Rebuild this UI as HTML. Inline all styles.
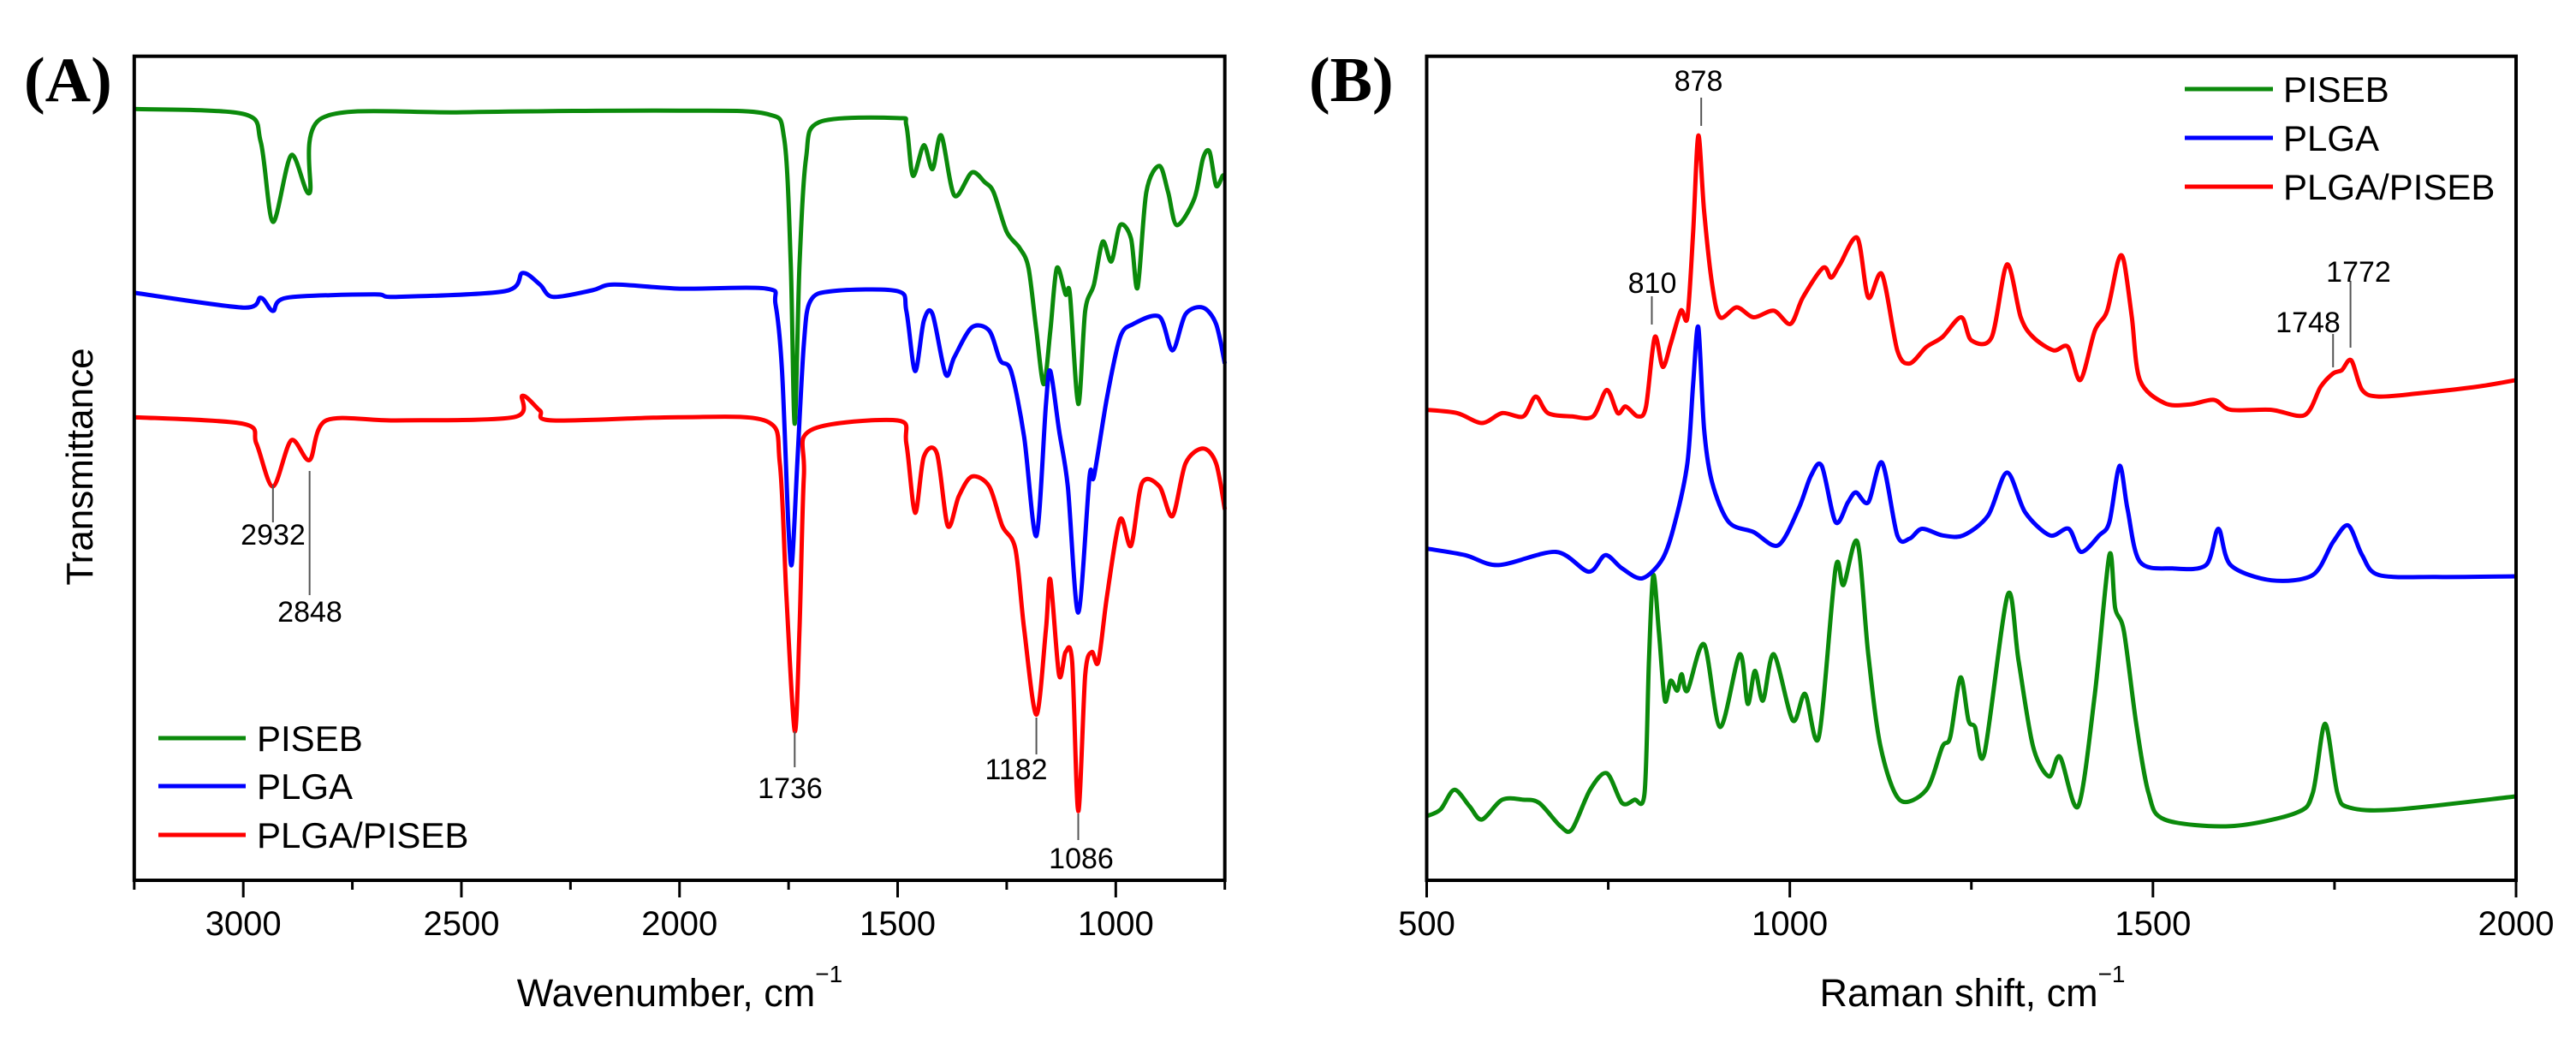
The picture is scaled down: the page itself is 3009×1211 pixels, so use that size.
<!DOCTYPE html>
<html><head><meta charset="utf-8"><style>
html,body{margin:0;padding:0;background:#fff;}
svg{display:block;font-family:"Liberation Sans",Arial,sans-serif;}
</style></head><body>
<svg id="fig" width="3009" height="1211" viewBox="0 0 3009 1211" xmlns="http://www.w3.org/2000/svg">
<g id="pA"></g>
<g id="pB"></g>
</svg>
<script>
// ---------- Panel A data (FTIR) ----------
const aWn = {
 green:[3250,3000,2960,2932,2890,2848,2820,2500,2000,1800,1760,1745,1736,1725,1710,1680,1500,1480,1465,1440,1420,1400,1370,1330,1300,1280,1250,1220,1200,1182,1165,1150,1135,1115,1105,1086,1070,1050,1030,1010,990,965,950,930,900,880,860,820,800,785,770,755,750],
 blue:[3250,3000,2960,2932,2900,2700,2650,2400,2360,2320,2290,2200,2150,2000,1800,1780,1765,1750,1742,1730,1715,1700,1650,1500,1480,1460,1440,1420,1390,1370,1330,1290,1265,1240,1210,1182,1160,1150,1130,1110,1086,1060,1050,1020,990,960,900,870,840,800,770,750],
 red:[3250,3000,2970,2932,2890,2848,2810,2650,2380,2360,2320,2290,2000,1800,1770,1755,1736,1725,1715,1700,1500,1480,1460,1440,1410,1385,1360,1330,1290,1260,1230,1210,1182,1160,1150,1130,1115,1100,1086,1070,1055,1040,1020,990,965,940,900,870,840,800,770,750]
};
const aT = {
 green:[93.6,93.0,89.6,79.9,88.0,83.4,92.5,93.2,93.4,93.0,90.0,74.7,55.4,74.7,87.6,92.0,92.5,91.6,85.5,89.2,86.3,90.4,83.1,85.9,84.7,83.5,78.7,76.7,74.3,66.7,60.2,66.7,74.3,71.1,71.1,57.8,69.1,72.3,77.5,75.1,79.5,77.9,71.9,83.5,86.7,83.5,79.5,82.7,87.6,88.4,84.3,85.5,85.5],
 blue:[71.3,69.5,70.7,69.1,70.7,71.1,70.8,71.5,73.7,72.3,70.8,71.6,72.3,71.8,71.8,69.9,61.8,42.6,38.6,50.6,65.1,70.3,71.5,71.5,69.1,61.8,67.9,68.7,61.4,63.5,67.1,66.7,63.1,61.8,53.8,41.8,57.8,61.8,54.6,47.8,32.5,49.0,49.0,58.6,65.9,67.5,68.4,64.3,68.7,69.5,67.5,62.7],
 red:[56.2,55.4,53.0,47.8,53.4,51.0,55.8,55.8,56.2,58.8,57.0,55.8,56.2,55.7,50.6,34.5,18.1,30.5,49.0,54.6,55.8,53.0,44.6,51.4,51.8,43.0,46.6,49.0,47.8,43.0,40.2,30.5,20.1,30.5,36.5,24.9,27.7,26.5,8.4,24.9,27.7,26.5,34.5,43.8,40.6,48.2,47.8,44.2,50.6,52.4,50.6,45.0]
};
const aTicks = [3000,2500,2000,1500,1000];
const aMinor = [3250,2750,2250,1750,1250,750];

// ---------- Panel B data (Raman) ----------
const bShift = {
 red:[500,542,576,604,633,650,667,700,729,748,763,774,791,802,814,825,836,850,859,867,874,882,893,904,927,950,978,1001,1018,1046,1057,1069,1093,1108,1127,1148,1165,1188,1210,1236,1250,1278,1299,1318,1335,1363,1383,1400,1420,1437,1452,1460,1471,1482,1516,1550,1584,1607,1663,1709,1731,1748,1760,1773,1788,1811,1867,1947,2000],
 blue:[500,553,599,678,723,746,769,797,825,842,859,867,874,882,893,916,950,984,1012,1029,1044,1063,1080,1091,1108,1127,1148,1165,1182,1210,1239,1273,1299,1324,1358,1384,1401,1426,1440,1454,1465,1482,1527,1573,1590,1607,1663,1720,1748,1769,1788,1811,1890,2000],
 green:[500,519,538,559,576,604,633,655,684,700,725,748,769,786,800,806,812,820,828,836,845,851,859,882,904,931,942,952,963,978,1004,1021,1040,1063,1074,1093,1108,1125,1151,1188,1210,1221,1235,1246,1255,1268,1300,1315,1335,1357,1372,1397,1420,1440,1448,1460,1477,1494,1516,1607,1697,1720,1737,1754,1771,1833,2000]
};
const bI = {
 red:[712,707,692,707,702,732,707,702,702,742,707,717,702,717,822,777,812,862,852,982,1127,1012,902,852,867,852,862,842,882,927,912,932,972,882,917,802,782,807,822,852,817,822,932,852,822,802,807,757,832,862,937,937,852,757,722,720,727,712,712,704,747,767,772,787,742,732,737,747,757],
 blue:[502,492,477,497,467,492,472,457,487,542,632,752,837,682,602,542,527,507,562,612,627,542,572,587,572,632,522,517,532,522,522,552,617,557,522,532,497,522,542,627,562,482,472,477,532,477,454,462,512,537,492,462,459,460],
 green:[97,107,137,112,92,122,122,117,82,77,137,162,117,122,132,332,462,372,272,302,287,312,287,357,232,342,267,317,272,342,242,282,217,472,447,512,342,202,122,137,202,217,307,242,232,192,432,332,202,157,187,112,282,492,412,377,237,132,92,82,102,132,237,132,110,107,127]
};
const bTicks = [500,1000,1500,2000];
const bMinor = [750,1250,1750];

const NS = 'http://www.w3.org/2000/svg';
const COL = {green:'#0b8a0b', blue:'#0000ff', red:'#ff0000'};
const LABEL = {green:'PISEB', blue:'PLGA', red:'PLGA/PISEB'};

function mk(parent, tag, attrs, text){
  const e = document.createElementNS(NS, tag);
  for (const k in attrs) e.setAttribute(k, attrs[k]);
  if (text !== undefined) e.textContent = text;
  parent.appendChild(e);
  return e;
}
function pathFrom(pts){
  let d = 'M' + pts[0][0].toFixed(1) + ',' + pts[0][1].toFixed(1);
  for (let i = 0; i < pts.length - 1; i++){
    const p0 = pts[i-1] || pts[i], p1 = pts[i], p2 = pts[i+1], p3 = pts[i+2] || p2;
    const t = 0.15;
    const c1 = [p1[0] + (p2[0]-p0[0])*t, p1[1] + (p2[1]-p0[1])*t];
    const c2 = [p2[0] - (p3[0]-p1[0])*t, p2[1] - (p3[1]-p1[1])*t];
    d += 'C' + c1[0].toFixed(1)+','+c1[1].toFixed(1)+' '+c2[0].toFixed(1)+','+c2[1].toFixed(1)+' '+p2[0].toFixed(1)+','+p2[1].toFixed(1);
  }
  return d;
}

// ---------- Panel A ----------
(function(){
  const g = document.getElementById('pA');
  const L = 156.8, R = 1430.7, T = 65.7, B = 1028;
  const xS = v => L + (3250 - v) / 2500 * (R - L);
  const yS = v => B - v / 100 * (B - T);
  for (const k of ['green','blue','red']){
    const pts = aWn[k].map((w,i) => [xS(w), yS(aT[k][i])]);
    const p = mk(g, 'path', {d: pathFrom(pts), fill:'none', stroke:COL[k], 'stroke-width':5, 'stroke-linejoin':'round'});
    
    
  }
  const fr = mk(g, 'rect', {x:L, y:T, width:R-L, height:B-T, fill:'none', stroke:'#000', 'stroke-width':4});
  
  
  aTicks.forEach(v => {
    const t = mk(g, 'line', {x1:xS(v), x2:xS(v), y1:B, y2:B+20, stroke:'#000', 'stroke-width':3});
    
    
    const l = mk(g, 'text', {x:xS(v), y:1092, 'font-size':40, 'text-anchor':'middle'}, String(v));
    
    
  });
  aMinor.forEach(v => {
    const t = mk(g, 'line', {x1:xS(v), x2:xS(v), y1:B, y2:B+11, stroke:'#000', 'stroke-width':3});
    
    
  });
  const xt = mk(g, 'text', {x:794, y:1175, 'font-size':45, 'text-anchor':'middle'});
  
  
  xt.innerHTML = 'Wavenumber, cm<tspan font-size="28" dy="-28">−1</tspan>';
  const yt = mk(g, 'text', {x:0, y:0, 'font-size':44, 'text-anchor':'middle', transform:'translate(108,545) rotate(-90)'}, 'Transmittance');
  
  
  const pl = mk(g, 'text', {x:28, y:118, 'font-size':74, 'font-weight':'bold', 'font-family':'"Liberation Serif",serif'}, '(A)');
  
  
  const ann = [[2932, 566, 610, 319, 636],[2848, 550, 695, 362, 726],[1736, 854, 896, 923, 932],[1182, 838, 881, 1187, 910],[1086, 950, 981, 1263, 1014]];
  ann.forEach(a => {
    const ln = mk(g, 'line', {x1:xS(a[0]), x2:xS(a[0]), y1:a[1], y2:a[2], stroke:'#555', 'stroke-width':2});
    
    
    const tx = mk(g, 'text', {x:a[3], y:a[4], 'font-size':34, 'text-anchor':'middle'}, String(a[0]));
    
    
  });
  [['green',862],['blue',918],['red',975]].forEach(([k,y]) => {
    const lg = mk(g, 'g', {});
    
    
    mk(lg, 'line', {x1:185, x2:287, y1:y, y2:y, stroke:COL[k], 'stroke-width':5});
    mk(lg, 'text', {x:300, y:y+15, 'font-size':42}, LABEL[k]);
  });
})();

// ---------- Panel B ----------
(function(){
  const g = document.getElementById('pB');
  const L = 1666.5, R = 2939, T = 65.7, B = 1028;
  const xS = v => L + (v - 500) / 1500 * (R - L);
  const yS = v => B - v / 1247 * (B - T);
  for (const k of ['green','blue','red']){
    const pts = bShift[k].map((s,i) => [xS(s), yS(bI[k][i])]);
    const p = mk(g, 'path', {d: pathFrom(pts), fill:'none', stroke:COL[k], 'stroke-width':5, 'stroke-linejoin':'round'});
    
    
  }
  const fr = mk(g, 'rect', {x:L, y:T, width:R-L, height:B-T, fill:'none', stroke:'#000', 'stroke-width':4});
  
  
  bTicks.forEach(v => {
    const t = mk(g, 'line', {x1:xS(v), x2:xS(v), y1:B, y2:B+20, stroke:'#000', 'stroke-width':3});
    
    
    const l = mk(g, 'text', {x:xS(v), y:1092, 'font-size':40, 'text-anchor':'middle'}, String(v));
    
    
  });
  bMinor.forEach(v => {
    const t = mk(g, 'line', {x1:xS(v), x2:xS(v), y1:B, y2:B+11, stroke:'#000', 'stroke-width':3});
    
    
  });
  const xt = mk(g, 'text', {x:2304, y:1175, 'font-size':45, 'text-anchor':'middle'});
  
  
  xt.innerHTML = 'Raman shift, cm<tspan font-size="28" dy="-28">−1</tspan>';
  const pl = mk(g, 'text', {x:1529, y:118, 'font-size':74, 'font-weight':'bold', 'font-family':'"Liberation Serif",serif'}, '(B)');
  
  
  const ann = [[878, 114, 147, 1984, 106],[810, 346, 379, 1930, 342],[1748, 390, 429, 2696, 388],[1772, 328, 406, 2755, 329]];
  ann.forEach(a => {
    const ln = mk(g, 'line', {x1:xS(a[0]), x2:xS(a[0]), y1:a[1], y2:a[2], stroke:'#555', 'stroke-width':2});
    
    
    const tx = mk(g, 'text', {x:a[3], y:a[4], 'font-size':34, 'text-anchor':'middle'}, String(a[0]));
    
    
  });
  [['green',104],['blue',161],['red',218]].forEach(([k,y]) => {
    const lg = mk(g, 'g', {});
    
    
    mk(lg, 'line', {x1:2552, x2:2655, y1:y, y2:y, stroke:COL[k], 'stroke-width':5});
    mk(lg, 'text', {x:2667, y:y+15, 'font-size':42}, LABEL[k]);
  });
})();
</script>
</body></html>
